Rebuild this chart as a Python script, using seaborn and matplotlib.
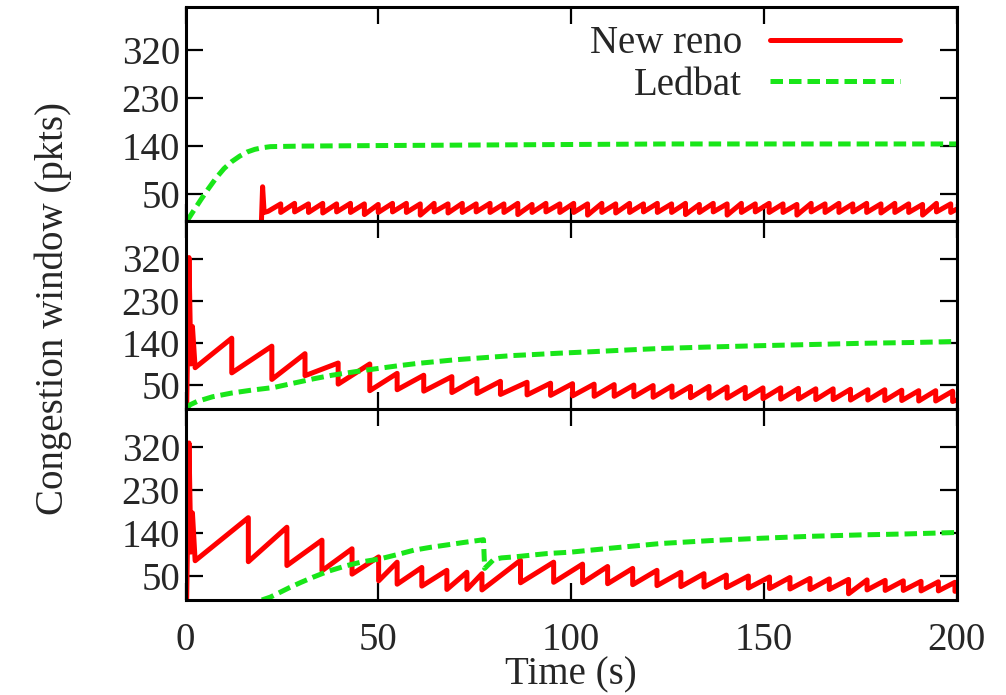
import matplotlib
matplotlib.use("Agg")
import matplotlib.pyplot as plt
import seaborn as sns

# ---------------- data ----------------
series_names = ["New reno", "Ledbat"]
time_ticks = [0, 50, 100, 150, 200]
cwnd_ticks = [50, 140, 230, 320]
x_label = "Time (s)"
y_label = "Congestion window (pkts)"

# top panel: New reno joins at ~20 s
reno1_head_t = [19.7, 20.0, 20.4, 21.4]
reno1_head_w = [0, 64, 16, 18]
reno1_peak_t = [24.7, 28.3, 31.9, 35.6, 39.2, 42.8, 46.4, 50.0, 53.7, 57.3,
                60.9, 64.5, 68.1, 71.8, 75.4, 79.0, 82.6, 86.2, 89.9, 93.5,
                97.1, 100.7, 104.3, 108.0, 111.6, 115.2, 118.8, 122.4, 126.1, 129.7,
                133.3, 136.9, 140.5, 144.2, 147.8, 151.4, 155.0, 158.6, 162.3, 165.9,
                169.5, 173.1, 176.7, 180.4, 184.0, 187.6, 191.2, 194.8, 198.5]
reno1_peak_w = [32, 33, 32, 33, 32, 33, 32, 31, 33, 33,
                32, 33, 32, 33, 32, 33, 32, 33, 31, 33,
                32, 33, 32, 33, 32, 33, 32, 33, 32, 33,
                31, 33, 32, 33, 32, 33, 32, 31, 33, 32,
                33, 32, 33, 32, 33, 32, 31, 33, 32]
reno1_trough_w = [16, 17, 16, 15, 17, 16, 12, 16, 17, 16,
                  11, 17, 15, 16, 17, 16, 16, 12, 16, 17,
                  16, 16, 11, 16, 15, 16, 17, 16, 16, 12,
                  16, 17, 11, 16, 17, 16, 16, 11, 17, 16,
                  16, 17, 16, 15, 16, 16, 11, 17, 16]
reno1_tail_t = [200.0]
reno1_tail_w = [22]

ledbat1_t = [0.4, 2, 4, 6, 8, 10, 12, 14, 16, 18, 20, 22, 30, 50, 75, 100, 125, 150, 175, 200]
ledbat1_w = [0, 18, 40, 61, 81, 98, 111, 121, 129, 134, 137, 139, 140, 141, 142, 143, 144, 144, 144, 144]

# middle panel: both flows start together
reno2_head_t = [0.3, 0.9, 1.4, 1.8, 2.5]
reno2_head_w = [0, 322, 95, 175, 87]
reno2_peak_t = [12.0, 22.4, 31.0, 39.6, 47.8, 54.9, 61.8, 69.1, 75.6, 81.7,
                88.6, 94.7, 100.4, 106.0, 111.2, 116.3, 121.3, 126.2, 131.0, 135.8,
                140.5, 145.2, 149.8, 154.4, 159.0, 163.5, 168.0, 172.5, 177.0, 181.4,
                185.8, 190.2, 194.6, 199.0]
reno2_peak_w = [150, 133, 117, 97, 95, 75, 71, 68, 64, 58,
                56, 54, 53, 52, 51, 50, 49, 48, 47, 47,
                46, 45, 44, 44, 43, 42, 42, 41, 40, 40,
                39, 38, 38, 37]
reno2_trough_w = [76, 62, 70, 52, 38, 40, 37, 34, 32, 30,
                  29, 28, 27, 26, 26, 25, 24, 24, 23, 22,
                  22, 21, 21, 20, 20, 19, 19, 18, 18, 17,
                  17, 16, 16, 15]
reno2_tail_t = [200.0]
reno2_tail_w = [18]

ledbat2_t = [0.3, 1.2, 3, 7, 12, 17, 23, 28, 33, 38, 42, 46, 50.5, 55, 60, 65, 70, 75,
             80, 85, 90, 97, 105, 115, 123, 135, 149, 165, 175, 190, 200]
ledbat2_w = [0, 8, 15, 25, 33, 39, 45, 54, 63, 71, 76, 81, 86, 91, 96, 100, 104, 107,
             110, 113, 115, 118, 121, 125, 128, 131, 134, 137, 139, 141, 143]

# bottom panel: Ledbat joins at ~20 s
reno3_head_t = [0.3, 0.9, 1.4, 1.8, 2.5]
reno3_head_w = [0, 328, 100, 182, 82]
reno3_peak_t = [16.3, 26.3, 35.4, 43.2, 50.1, 54.9, 61.3, 67.8, 73.0, 76.9,
                86.9, 95.5, 103.0, 109.5, 116.0, 122.3, 128.5, 134.5, 140.3, 146.0,
                151.5, 156.8, 162.0, 167.0, 172.0, 176.8, 181.5, 186.2, 190.8, 195.3,
                199.6]
reno3_peak_w = [172, 152, 125, 107, 90, 79, 68, 62, 58, 55,
                83, 79, 75, 70, 66, 62, 58, 55, 52, 50,
                48, 47, 45, 44, 43, 42, 41, 40, 39, 38,
                37]
reno3_trough_w = [80, 72, 61, 54, 40, 33, 29, 22, 22, 21,
                  36, 37, 36, 34, 32, 30, 28, 27, 26, 25,
                  24, 23, 22, 22, 13, 21, 20, 20, 19, 19,
                  18]
reno3_tail_t = [200.0]
reno3_tail_w = [20]

ledbat3_t = [19.8, 22, 24.5, 27, 30, 33.2, 37, 41.9, 46, 50.5, 55, 59.2, 63.5, 67.8, 72,
             76.5, 77.3, 77.6, 80.0, 82.0, 85.2, 93.8, 100, 110, 123.3, 136, 149.3, 162,
             175.2, 187, 200]
ledbat3_w = [0, 6, 16, 26, 37, 48, 60, 72, 80, 86, 95, 104, 110, 115, 120,
             125, 126, 66, 85, 88, 90, 97, 100, 108, 118, 124, 129, 133,
             136, 138, 141]


def sawtooth(head_t, head_w, peak_t, peak_w, trough_w, tail_t, tail_w):
    """Join the start-up segment, the peak/drop pairs and the final segment."""
    t, w = list(head_t), list(head_w)
    for pt, pw, tw in zip(peak_t, peak_w, trough_w):
        t += [pt, pt]
        w += [pw, tw]
    return t + list(tail_t), w + list(tail_w)


panels = [
    (sawtooth(reno1_head_t, reno1_head_w, reno1_peak_t, reno1_peak_w,
              reno1_trough_w, reno1_tail_t, reno1_tail_w), (ledbat1_t, ledbat1_w)),
    (sawtooth(reno2_head_t, reno2_head_w, reno2_peak_t, reno2_peak_w,
              reno2_trough_w, reno2_tail_t, reno2_tail_w), (ledbat2_t, ledbat2_w)),
    (sawtooth(reno3_head_t, reno3_head_w, reno3_peak_t, reno3_peak_w,
              reno3_trough_w, reno3_tail_t, reno3_tail_w), (ledbat3_t, ledbat3_w)),
]

# ---------------- style ----------------
sns.set_theme(style="ticks")
plt.rcParams["font.family"] = ["Liberation Serif", "DejaVu Serif"]
FS = 28
RED = "#ff0000"
GREEN = "#19e619"
LW = 3.6

W, H = 1006, 695
fig = plt.figure(figsize=(W / 100, H / 100), dpi=100)
left, right = 185.5, 956.5
rows = [(7, 221), (221, 408.5), (408.5, 600)]  # pixel top/bottom of each panel
axes = []
for top, bottom in rows:
    ax = fig.add_axes([left / W, 1 - bottom / H, (right - left) / W, (bottom - top) / H])
    axes.append(ax)

for i, (ax, ((rt, rw), (lt, lw))) in enumerate(zip(axes, panels)):
    sns.lineplot(x=rt, y=rw, ax=ax, color=RED, linewidth=LW, sort=False,
                 estimator=None, label=series_names[0], legend=False)
    sns.lineplot(x=lt, y=lw, ax=ax, color=GREEN, linewidth=LW, sort=False,
                 estimator=None, label=series_names[1], legend=False,
                 linestyle=(0, (2.5, 1.2)))
    ax.set_xlim(0, 200)
    ax.set_ylim(0, 400)
    ax.set_xticks(time_ticks)
    ax.set_yticks(cwnd_ticks)
    ax.set_xlabel("")
    ax.set_ylabel("")
    ax.tick_params(axis="both", direction="in", length=12, width=1.6,
                   top=True, right=True, labelsize=FS, color="black")
    ax.tick_params(axis="y", pad=4)
    ax.tick_params(axis="x", pad=16, labelbottom=(i == 2))
    for s in ax.spines.values():
        s.set_linewidth(2.2)
        s.set_color("black")
        s.set_visible(True)
    ax.set_facecolor("white")
    ax.grid(False)

# legend in the top panel: label text right-aligned, sample line to its right
h = axes[0].get_lines()
axes[0].legend(h[:2], series_names, loc="upper right",
               bbox_to_anchor=((900 - left) / (right - left), 0.915),
               frameon=False, markerfirst=False, fontsize=FS,
               handlelength=3.34, handletextpad=0.72, labelspacing=0.12,
               borderpad=0, borderaxespad=0)

axes[2].set_xlabel(x_label, fontsize=FS)
axes[2].xaxis.set_label_coords(0.5, -0.295)
axes[1].set_ylabel(y_label, fontsize=FS)
axes[1].yaxis.set_label_coords((72 - left) / (right - left), 0.531)

fig.savefig("out.png", dpi=100, facecolor="white")
